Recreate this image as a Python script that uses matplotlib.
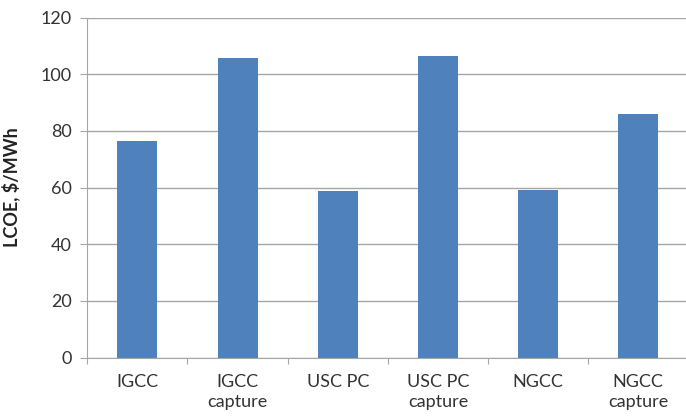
import matplotlib.pyplot as plt
import numpy as np

# data
categories = ['IGCC', 'IGCC\ncapture', 'USC PC', 'USC PC\ncapture', 'NGCC', 'NGCC\ncapture']
lcoe = [76.5, 105.6, 58.9, 106.5, 59.0, 86.1]
yticks = [0, 20, 40, 60, 80, 100, 120]

plt.rcParams['font.family'] = ['Lato', 'DejaVu Sans']

fig = plt.figure(figsize=(6.86, 4.18), dpi=100)
ax = fig.add_axes([87.3 / 686, (418 - 357.5) / 418, 601 / 686, 340 / 418])

x = np.arange(len(categories))
ax.bar(x, lcoe, width=0.4, color='#4F81BD', zorder=3)

ax.set_xlim(-0.5, len(categories) - 0.5)
ax.set_ylim(0, 120)

# gridlines
ax.set_yticks(yticks)
ax.yaxis.grid(True, color='#A6A6A6', linewidth=1.0, zorder=0)
ax.tick_params(axis='y', length=5, color='#A6A6A6', labelsize=13, labelcolor='#333333', pad=6)

# x ticks at category boundaries, labels at centres
ax.set_xticks(np.arange(-0.5, len(categories), 1.0))
ax.set_xticklabels([])
ax.tick_params(axis='x', which='major', length=4, color='#A6A6A6')
ax.set_xticks(x, minor=True)
ax.set_xticklabels(categories, minor=True, fontsize=13, color='#333333', linespacing=1.3)
ax.tick_params(axis='x', which='minor', length=0, pad=12)

for s in ['top', 'right']:
    ax.spines[s].set_visible(False)
for s in ['left', 'bottom']:
    ax.spines[s].set_color('#A6A6A6')
    ax.spines[s].set_zorder(4)

ax.set_ylabel('LCOE, $/MWh', fontsize=13, fontweight='bold', color='#222222')
ax.yaxis.set_label_coords(-0.112, 0.5)

fig.savefig('out.png', dpi=100)
